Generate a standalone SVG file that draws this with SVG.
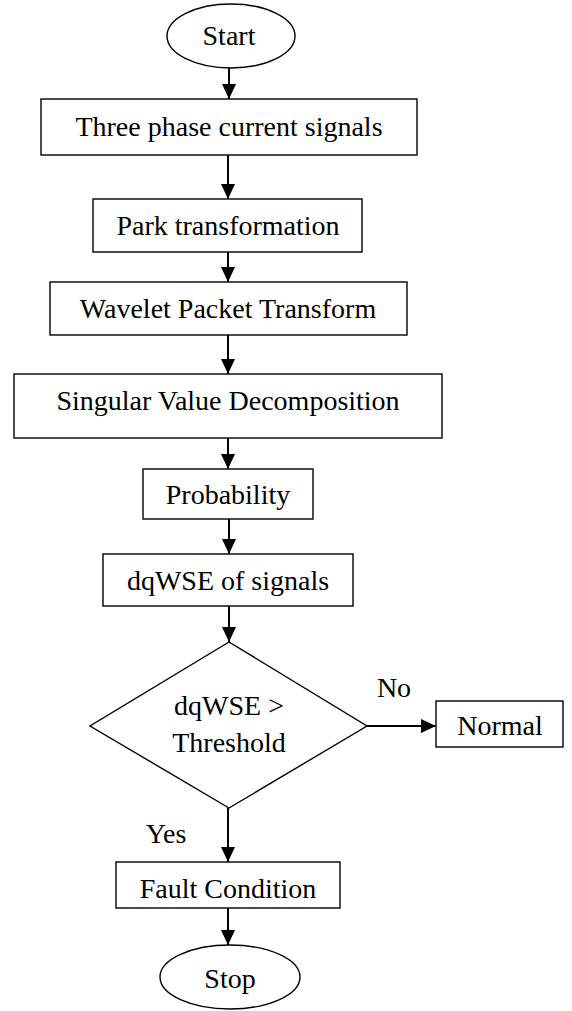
<svg xmlns="http://www.w3.org/2000/svg" width="572" height="1011" viewBox="0 0 572 1011">
<style>
.box{fill:#fff;stroke:#000;stroke-width:1.4}
.t{font-family:"Liberation Serif","Times New Roman",serif;font-size:28px;fill:#000;text-anchor:middle}
.c{stroke:#000;stroke-width:2;fill:none;marker-end:url(#ah)}
</style>
<defs>
<marker id="ah" markerUnits="userSpaceOnUse" markerWidth="15" markerHeight="14" refX="15" refY="7" orient="auto">
<path d="M0,0 L15,7 L0,14 z" fill="#000"/>
</marker>
</defs>
<rect width="572" height="1011" fill="#fff"/>
<g id="connectors">
<line class="c" x1="229" y1="68" x2="229" y2="99"/>
<line class="c" x1="228" y1="155" x2="228" y2="199"/>
<line class="c" x1="228" y1="252" x2="228" y2="282"/>
<line class="c" x1="228" y1="335" x2="228" y2="374"/>
<line class="c" x1="228" y1="438" x2="228" y2="469"/>
<line class="c" x1="229" y1="519" x2="229" y2="554"/>
<line class="c" x1="229" y1="606" x2="229" y2="642"/>
<line class="c" x1="367" y1="726" x2="436" y2="726"/>
<line class="c" x1="228" y1="808" x2="228" y2="862"/>
<line class="c" x1="228" y1="908" x2="228" y2="945"/>
<text class="t" x="394" y="697">No</text>
<text class="t" x="166" y="843">Yes</text>
</g>
<g id="start">
<ellipse class="box" cx="231" cy="36" rx="64" ry="32"/>
<text class="t" x="229" y="45">Start</text>
</g>
<g id="three-phase">
<rect class="box" x="41" y="99" width="376" height="56"/>
<text class="t" x="229" y="136">Three phase current signals</text>
</g>
<g id="park">
<rect class="box" x="93" y="199" width="269" height="53"/>
<text class="t" x="228" y="235">Park transformation</text>
</g>
<g id="wpt">
<rect class="box" x="50" y="282" width="357" height="53"/>
<text class="t" x="228" y="318">Wavelet Packet Transform</text>
</g>
<g id="svd">
<rect class="box" x="14" y="374" width="428" height="64"/>
<text class="t" x="228" y="410">Singular Value Decomposition</text>
</g>
<g id="probability">
<rect class="box" x="143" y="469" width="170" height="50"/>
<text class="t" x="228" y="504">Probability</text>
</g>
<g id="dqwse">
<rect class="box" x="103" y="554" width="250" height="52"/>
<text class="t" x="228" y="590">dqWSE of signals</text>
</g>
<g id="decision">
<polygon class="box" points="229,642 367,726 229,808 90,726"/>
<text class="t" x="229" y="715">dqWSE &gt;</text>
<text class="t" x="229" y="752">Threshold</text>
</g>
<g id="normal">
<rect class="box" x="436" y="701" width="127" height="46"/>
<text class="t" x="500" y="735">Normal</text>
</g>
<g id="fault">
<rect class="box" x="116" y="862" width="224" height="46"/>
<text class="t" x="228" y="898">Fault Condition</text>
</g>
<g id="stop">
<ellipse class="box" cx="230" cy="977" rx="70" ry="32"/>
<text class="t" x="230" y="988">Stop</text>
</g>
</svg>
